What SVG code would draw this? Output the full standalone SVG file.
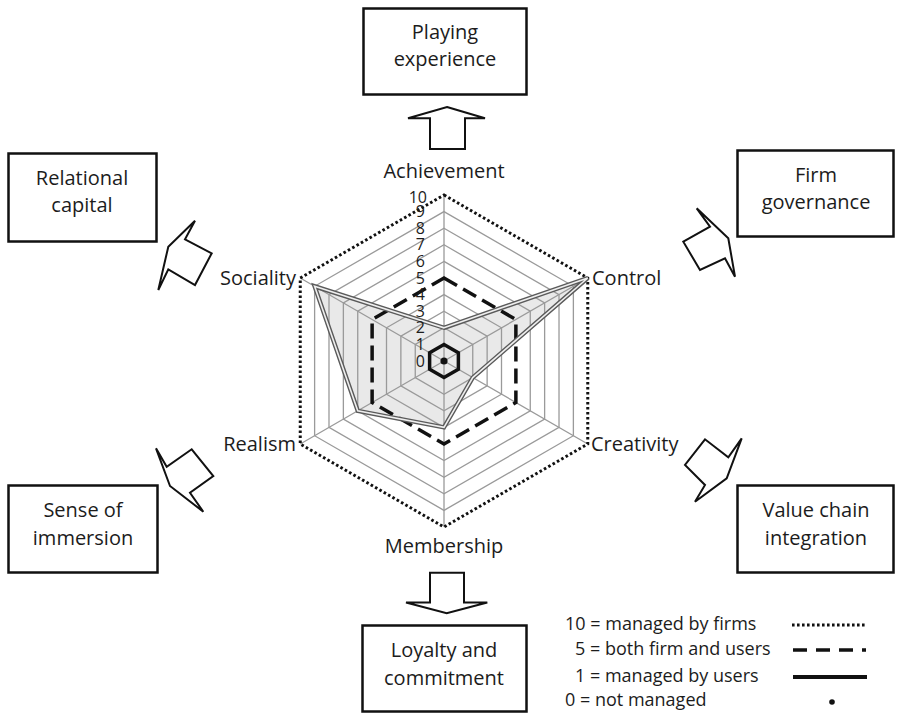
<svg xmlns="http://www.w3.org/2000/svg" width="901" height="715" viewBox="0 0 901 715">
  <style>
    text { font-family: "Open Sans", "Liberation Sans", sans-serif; fill: #1c1c1c; }
    .lbl { font-size: 20px; }
    .box { fill: #fff; stroke: #111; stroke-width: 2.5; }
    .arrow { fill: #fff; stroke: #111; stroke-width: 2; stroke-linejoin: miter; }
    .grid { fill: none; stroke: #9a9a9a; stroke-width: 1.3; }
    .scale { font-size: 16px; text-anchor: end; }
    .legend { font-size: 18px; }
  </style>
  <rect width="901" height="715" fill="#fff"/>

  <!-- Radar chart: centre (444,361), 16.6 px per level -->
  <g id="radar">
    <!-- data area fill -->
    <polygon points="444,327.8 587.76,278 472.75,377.6 444,427.4 357.74,410.8 314.6,286.3" fill="#e9e9e9"/>
    <!-- grid rings 2-9 -->
    <polygon class="grid" points="444,327.8 472.75,344.4 472.75,377.6 444,394.2 415.25,377.6 415.25,344.4"/>
    <polygon class="grid" points="444,311.2 487.13,336.1 487.13,385.9 444,410.8 400.87,385.9 400.87,336.1"/>
    <polygon class="grid" points="444,294.6 501.5,327.8 501.5,394.2 444,427.4 386.5,394.2 386.5,327.8"/>
    <polygon class="grid" points="444,261.4 530.26,311.2 530.26,410.8 444,460.6 357.74,410.8 357.74,311.2"/>
    <polygon class="grid" points="444,244.8 544.63,302.9 544.63,419.1 444,477.2 343.37,419.1 343.37,302.9"/>
    <polygon class="grid" points="444,228.2 559.01,294.6 559.01,427.4 444,493.8 328.99,427.4 328.99,294.6"/>
    <polygon class="grid" points="444,211.6 573.38,286.3 573.38,435.7 444,510.4 314.62,435.7 314.62,286.3"/>
    <!-- spokes -->
    <path class="grid" d="M444,361V195M444,361L587.76,278M444,361L587.76,444M444,361V527M444,361L300.24,444M444,361L300.24,278"/>
    <!-- level 10: managed by firms -->
    <polygon points="444,195 587.76,278 587.76,444 444,527 300.24,444 300.24,278" fill="none" stroke="#111" stroke-width="3" stroke-dasharray="2.6 2.4"/>
    <!-- level 5: both firm and users -->
    <polygon points="444,278 515.88,319.5 515.88,402.5 444,444 372.12,402.5 372.12,319.5" fill="none" stroke="#111" stroke-width="3.5" stroke-dasharray="15 7"/>
    <!-- level 1: managed by users -->
    <polygon points="444,344.4 458.38,352.7 458.38,369.3 444,377.6 429.62,369.3 429.62,352.7" fill="none" stroke="#111" stroke-width="3.5"/>
    <!-- level 0: not managed -->
    <circle cx="444" cy="361" r="3.6" fill="#111"/>
    <!-- data outline (double line) -->
    <polygon points="444,327.8 587.76,278 472.75,377.6 444,427.4 357.74,410.8 314.6,286.3" fill="none" stroke="#5a5a5a" stroke-width="4.4" stroke-linejoin="miter"/>
    <polygon points="444,327.8 587.76,278 472.75,377.6 444,427.4 357.74,410.8 314.6,286.3" fill="none" stroke="#eeeeee" stroke-width="1.6" stroke-linejoin="miter"/>
    <!-- scale -->
    <g class="scale">
      <text x="425" y="367">0</text>
      <text x="425" y="350">1</text>
      <text x="425" y="333">2</text>
      <text x="425" y="317">3</text>
      <text x="425" y="300">4</text>
      <text x="425" y="284">5</text>
      <text x="425" y="267">6</text>
      <text x="425" y="250">7</text>
      <text x="425" y="234">8</text>
      <text x="425" y="217">9</text>
      <text x="427" y="203">10</text>
    </g>
    <!-- axis labels -->
    <g class="lbl">
      <text x="444" y="178" text-anchor="middle">Achievement</text>
      <text x="592" y="285">Control</text>
      <text x="591" y="451">Creativity</text>
      <text x="444" y="553" text-anchor="middle">Membership</text>
      <text x="296" y="451" text-anchor="end">Realism</text>
      <text x="296" y="285" text-anchor="end">Sociality</text>
    </g>
  </g>

  <!-- Outcome boxes -->
  <g id="playing-experience">
    <rect class="box" x="363.5" y="8.5" width="163" height="86"/>
    <text class="lbl" x="445" y="38.5" text-anchor="middle">Playing</text>
    <text class="lbl" x="445" y="65.5" text-anchor="middle">experience</text>
  </g>
  <g id="relational-capital">
    <rect class="box" x="8.5" y="153.5" width="148" height="88"/>
    <text class="lbl" x="82" y="184.5" text-anchor="middle">Relational</text>
    <text class="lbl" x="82" y="211.5" text-anchor="middle">capital</text>
  </g>
  <g id="firm-governance">
    <rect class="box" x="737.5" y="150.5" width="156" height="86"/>
    <text class="lbl" x="816" y="181.5" text-anchor="middle">Firm</text>
    <text class="lbl" x="816" y="208.5" text-anchor="middle">governance</text>
  </g>
  <g id="sense-of-immersion">
    <rect class="box" x="8.5" y="485.5" width="149" height="87"/>
    <text class="lbl" x="83" y="517" text-anchor="middle">Sense of</text>
    <text class="lbl" x="83" y="545" text-anchor="middle">immersion</text>
  </g>
  <g id="value-chain-integration">
    <rect class="box" x="737.5" y="485.5" width="156" height="87"/>
    <text class="lbl" x="816" y="517" text-anchor="middle">Value chain</text>
    <text class="lbl" x="816" y="545" text-anchor="middle">integration</text>
  </g>
  <g id="loyalty-and-commitment">
    <rect class="box" x="362.5" y="625.5" width="164" height="86"/>
    <text class="lbl" x="444" y="657" text-anchor="middle">Loyalty and</text>
    <text class="lbl" x="444" y="685" text-anchor="middle">commitment</text>
  </g>

  <!-- Block arrows from the chart towards each outcome -->
  <g id="connectors">
    <polygon class="arrow" points="447,107 485,118.3 465,118.3 465,149 430,149 430,118.3 408,118.3"/>
    <polygon class="arrow" points="696.7,208.3 710,226.7 683.3,241.7 700,270 725,258.3 735,276.7 728.3,238.3"/>
    <polygon class="arrow" points="741.7,438.3 728.3,457.3 705,439.3 685,465 705,485 695,501.7 726.7,478.3"/>
    <polygon class="arrow" points="430,572.7 464,572.7 464,602.5 487.3,602.5 446.7,613.3 406,602.5 430,602.5"/>
    <polygon class="arrow" points="156,448.3 166.7,466.7 191.7,449.3 213.3,476 190,492.7 203.3,511.7 170,486"/>
    <polygon class="arrow" points="195,220.7 185,239.3 211.7,253.3 195,285 168.3,269.3 158.3,290 168.3,246.7"/>
  </g>

  <!-- Legend -->
  <g id="legend">
    <text class="legend" x="565" y="630">10 = managed by firms</text>
    <text class="legend" x="575" y="655">5 = both firm and users</text>
    <text class="legend" x="575" y="682">1 = managed by users</text>
    <text class="legend" x="565" y="706">0 = not managed</text>
    <line x1="792" y1="625" x2="867" y2="625" stroke="#111" stroke-width="3" stroke-dasharray="2.6 2.4"/>
    <line x1="793" y1="650" x2="866" y2="650" stroke="#111" stroke-width="3.5" stroke-dasharray="14 9"/>
    <line x1="793" y1="677" x2="867" y2="677" stroke="#111" stroke-width="4"/>
    <circle cx="832" cy="702" r="2.8" fill="#111"/>
  </g>
</svg>
